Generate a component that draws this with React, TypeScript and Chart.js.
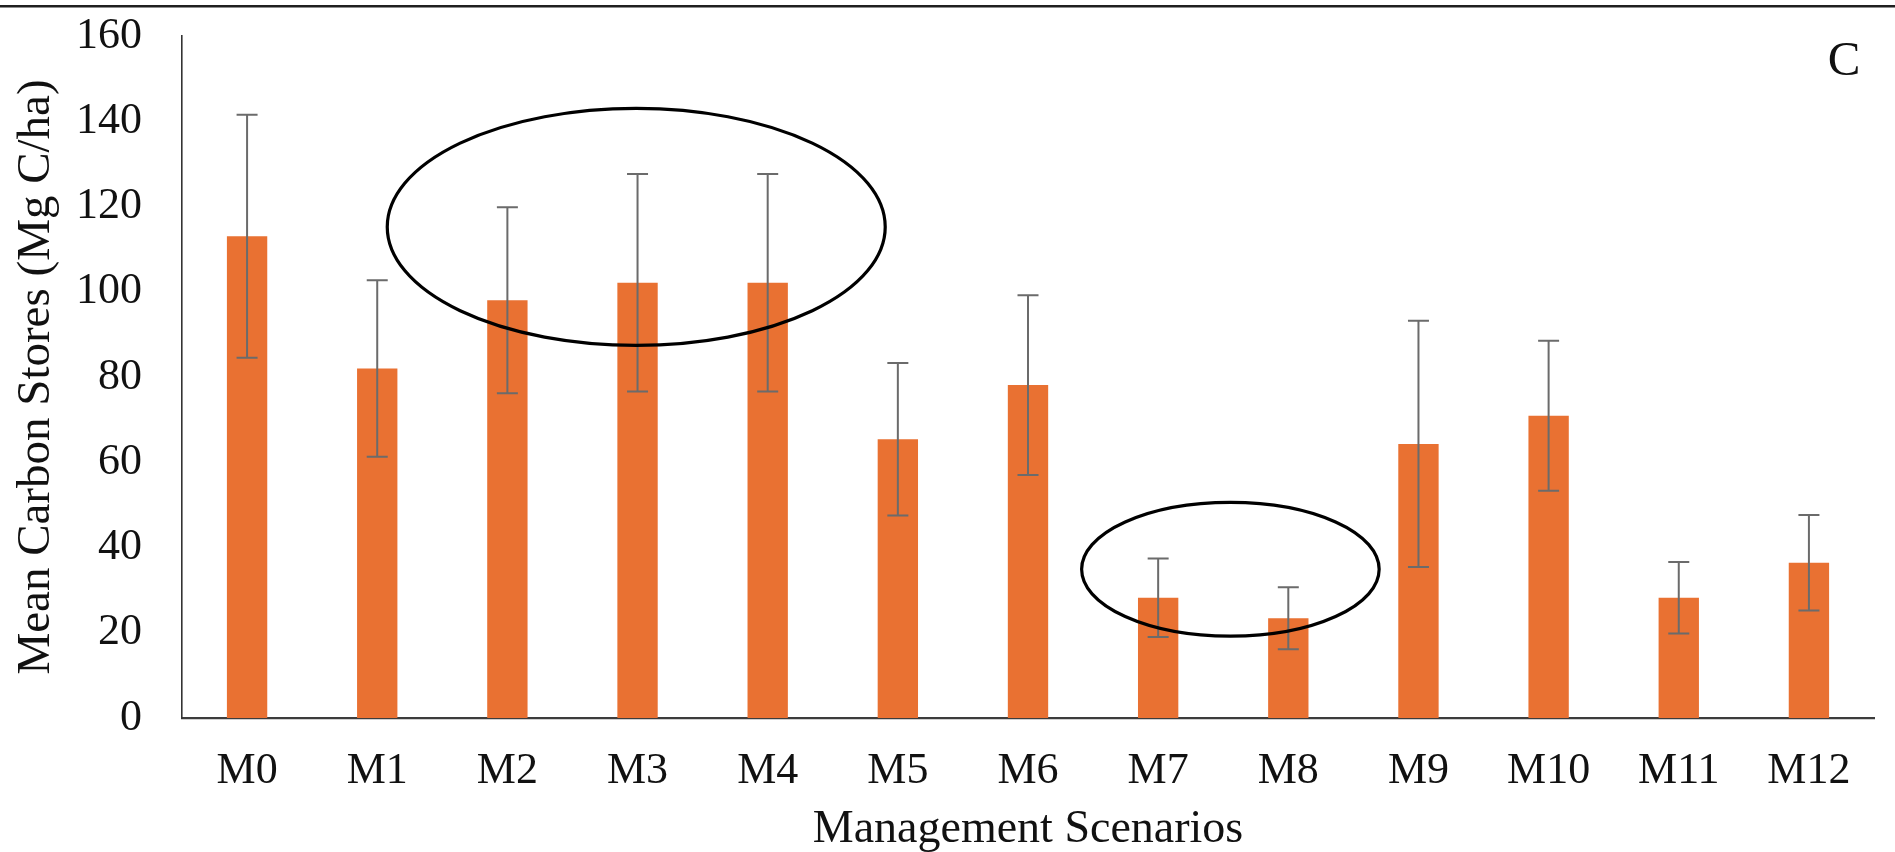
import React, { useEffect, useRef } from "react";
import { Chart, registerables } from "chart.js";

Chart.register(...registerables);

// ---- Data ----
const categories = ["M0", "M1", "M2", "M3", "M4", "M5", "M6", "M7", "M8", "M9", "M10", "M11", "M12"];
const meanCarbonStores = [113, 82, 98, 102.1, 102.1, 65.4, 78.1, 28.2, 23.4, 64.3, 70.9, 28.2, 36.4];
const errorValues = [28.5, 20.7, 21.8, 25.5, 25.5, 17.9, 21.1, 9.2, 7.3, 28.9, 17.6, 8.4, 11.2];
const yTickValues = [0, 20, 40, 60, 80, 100, 120, 140, 160];

// Highlight ellipses, in data units (category index / carbon value)
const ellipseCenterCat = [2.99, 7.555];
const ellipseCenterVal = [115.2, 34.9];
const ellipseRadiusCat = [1.913, 1.143];
const ellipseRadiusVal = [27.8, 15.7];

const panelLabel = "C";
const xTitle = "Management Scenarios";
const yTitle = "Mean Carbon Stores (Mg C/ha)";

const FONT = "'Liberation Serif', 'Times New Roman', serif";
const TEXT = "#111111";

const W = 1895;
const H = 852;

const backgroundPlugin = {
  id: "bgAndFrame",
  beforeDraw(chart: any) {
    const { ctx } = chart;
    ctx.save();
    ctx.fillStyle = "#ffffff";
    ctx.fillRect(0, 0, chart.width, chart.height);
    ctx.restore();
  },
  afterDraw(chart: any) {
    const { ctx } = chart;
    ctx.save();
    ctx.fillStyle = "#1f1f1f";
    ctx.fillRect(0, 5, chart.width, 2.5);
    // panel label
    ctx.fillStyle = TEXT;
    ctx.font = `49px ${FONT}`;
    ctx.textAlign = "center";
    ctx.textBaseline = "middle";
    ctx.fillText(panelLabel, chart.width - 51, 62);
    ctx.restore();
  },
};

const errorBarPlugin = {
  id: "errorBars",
  afterDatasetsDraw(chart: any) {
    const { ctx } = chart;
    const y = chart.scales.y;
    const meta = chart.getDatasetMeta(0);
    ctx.save();
    ctx.strokeStyle = "#6b6b6b";
    ctx.lineWidth = 2;
    meta.data.forEach((bar: any, i: number) => {
      const v = meanCarbonStores[i];
      const e = errorValues[i];
      const x = bar.x;
      const yt = y.getPixelForValue(v + e);
      const yb = y.getPixelForValue(v - e);
      const cap = 10.5;
      ctx.beginPath();
      ctx.moveTo(x, yt);
      ctx.lineTo(x, yb);
      ctx.moveTo(x - cap, yt);
      ctx.lineTo(x + cap, yt);
      ctx.moveTo(x - cap, yb);
      ctx.lineTo(x + cap, yb);
      ctx.stroke();
    });
    ctx.restore();
  },
};

const ellipsePlugin = {
  id: "ellipses",
  afterDraw(chart: any) {
    const { ctx } = chart;
    const xs = chart.scales.x;
    const ys = chart.scales.y;
    ctx.save();
    ctx.strokeStyle = "#000000";
    ctx.lineWidth = 3.2;
    ellipseCenterCat.forEach((c, i) => {
      const cx = xs.getPixelForValue(c);
      const cy = ys.getPixelForValue(ellipseCenterVal[i]);
      const rx = xs.getPixelForValue(c + ellipseRadiusCat[i]) - cx;
      const ry = cy - ys.getPixelForValue(ellipseCenterVal[i] + ellipseRadiusVal[i]);
      ctx.beginPath();
      ctx.ellipse(cx, cy, rx, ry, 0, 0, Math.PI * 2);
      ctx.stroke();
    });
    ctx.restore();
  },
};

export default function App() {
  const canvasRef = useRef<HTMLCanvasElement | null>(null);

  useEffect(() => {
    if (!canvasRef.current) return;
    const chart = new Chart(canvasRef.current, {
      type: "bar",
      data: {
        labels: categories,
        datasets: [
          {
            data: meanCarbonStores,
            backgroundColor: "#E97132",
            borderWidth: 0,
            barPercentage: 0.31,
            categoryPercentage: 1,
          },
        ],
      },
      options: {
        responsive: false,
        animation: false,
        devicePixelRatio: 1,
        layout: { padding: { left: 0, top: 36, right: 21, bottom: 0 } },
        plugins: {
          legend: { display: false },
          tooltip: { enabled: false },
        },
        scales: {
          x: {
            type: "category",
            grid: { display: false, drawTicks: false },
            border: { display: true, color: "#3c3c3c", width: 2.2 },
            ticks: {
              font: { family: FONT, size: 44 },
              color: TEXT,
              padding: 27,
              maxRotation: 0,
              autoSkip: false,
            },
            title: {
              display: true,
              text: xTitle,
              font: { family: FONT, size: 46, lineHeight: 0.95 },
              color: TEXT,
              padding: { top: 0, bottom: 0 },
            },
            afterFit: (s: any) => {
              s.height = 134;
            },
          },
          y: {
            min: 0,
            max: 160,
            afterBuildTicks: (s: any) => {
              s.ticks = yTickValues.map((v) => ({ value: v }));
            },
            grid: { display: false, drawTicks: false },
            border: { display: true, color: "#333333", width: 1.6 },
            ticks: {
              font: { family: FONT, size: 44 },
              color: TEXT,
              padding: 40,
            },
            title: {
              display: true,
              text: yTitle,
              font: { family: FONT, size: 47 },
              color: TEXT,
              padding: { top: 8, bottom: 0 },
            },
            afterFit: (s: any) => {
              s.width = 182;
              s.paddingTop = 0;
              s.paddingBottom = 0;
            },
          },
        },
      },
      plugins: [backgroundPlugin, errorBarPlugin, ellipsePlugin],
    } as any);
    return () => chart.destroy();
  }, []);

  return (
    <div style={{ position: "fixed", left: 0, top: 0, width: W, height: H, background: "#fff" }}>
      <canvas ref={canvasRef} width={W} height={H} style={{ display: "block", width: W, height: H }} />
    </div>
  );
}
